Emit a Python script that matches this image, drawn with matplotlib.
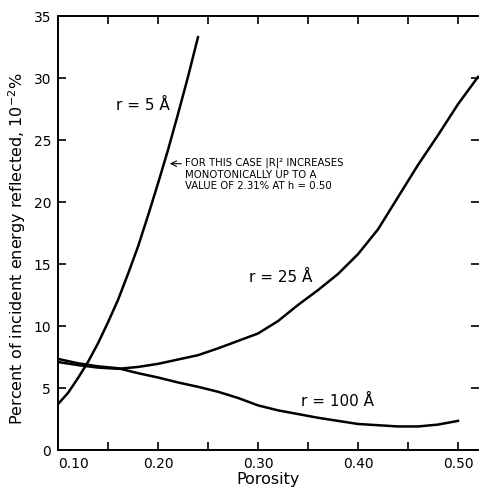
import numpy as np
import matplotlib
matplotlib.use('Agg')
import matplotlib.pyplot as plt

# porosity values
x5 = [0.10, 0.11, 0.12, 0.13, 0.14, 0.15, 0.16, 0.17, 0.18, 0.19, 0.20, 0.21, 0.22, 0.23, 0.24]
y5 = [3.7, 4.6, 5.8, 7.1, 8.6, 10.3, 12.1, 14.2, 16.4, 18.9, 21.5, 24.2, 27.1, 30.1, 33.3]

x25 = [0.10, 0.12, 0.14, 0.16, 0.18, 0.20, 0.22, 0.24, 0.26, 0.28, 0.30,
       0.32, 0.34, 0.36, 0.38, 0.40, 0.42, 0.44, 0.46, 0.48, 0.50, 0.52]
y25 = [7.1, 6.85, 6.65, 6.55, 6.7, 6.95, 7.3, 7.65, 8.2, 8.8, 9.4,
       10.4, 11.7, 12.9, 14.2, 15.8, 17.8, 20.4, 23.0, 25.4, 27.9, 30.1]

x100 = [0.10, 0.12, 0.14, 0.16, 0.18, 0.20, 0.22, 0.24, 0.26, 0.28, 0.30,
        0.32, 0.34, 0.36, 0.38, 0.40, 0.42, 0.44, 0.46, 0.48, 0.50]
y100 = [7.35, 7.0, 6.75, 6.6, 6.2, 5.85, 5.45, 5.1, 4.7, 4.2, 3.6,
        3.2, 2.9, 2.6, 2.35, 2.1, 2.0, 1.9, 1.9, 2.05, 2.35]

xticks = [0.10, 0.20, 0.30, 0.40, 0.50]
xlabels = ['0.10', '0.20', '0.30', '0.40', '0.50']
yticks = [0, 5, 10, 15, 20, 25, 30, 35]

note = "FOR THIS CASE |R|\u00b2 INCREASES\nMONOTONICALLY UP TO A\nVALUE OF 2.31% AT h = 0.50"

fig = plt.figure(figsize=(4.79, 4.91), dpi=100)
ax = fig.add_axes([0.121, 0.0835, 0.879, 0.8835])

ax.plot(x5, y5, color='black', linewidth=1.8)
ax.plot(x25, y25, color='black', linewidth=1.8)
ax.plot(x100, y100, color='black', linewidth=1.8)

ax.set_xlim(0.10, 0.521)
ax.set_ylim(0, 35)
ax.set_xticks(xticks)
ax.set_xticklabels(xlabels)
ax.set_xticks([0.15, 0.25, 0.35, 0.45], minor=True)
ax.set_yticks(yticks)
ax.tick_params(which='both', direction='in', length=6, width=1.2,
               top=True, right=True, labelsize=10, pad=5)
ax.get_xticklabels()[0].set_horizontalalignment('left')
for s in ['left', 'bottom', 'top']:
    ax.spines[s].set_linewidth(1.4)
ax.spines['right'].set_visible(False)

ax.set_xlabel('Porosity', fontsize=11.5, labelpad=1)
ax.set_ylabel(r'Percent of incident energy reflected, 10$^{-2}$%', fontsize=11.5)
ax.yaxis.set_label_coords(-0.072, 0.465)

ax.text(0.185, 27.8, 'r = 5 \u00c5', fontsize=11, ha='center', va='center')
ax.text(0.323, 13.9, 'r = 25 \u00c5', fontsize=11, ha='center', va='center')
ax.text(0.380, 3.9, 'r = 100 \u00c5', fontsize=11, ha='center', va='center')

ax.annotate('', xy=(0.209, 23.1), xytext=(0.226, 23.1),
            arrowprops=dict(arrowstyle='->', lw=0.8, color='black'))
ax.text(0.227, 23.6, note, fontsize=7.3, ha='left', va='top', linespacing=1.2)

fig.savefig('out.png', dpi=100)
